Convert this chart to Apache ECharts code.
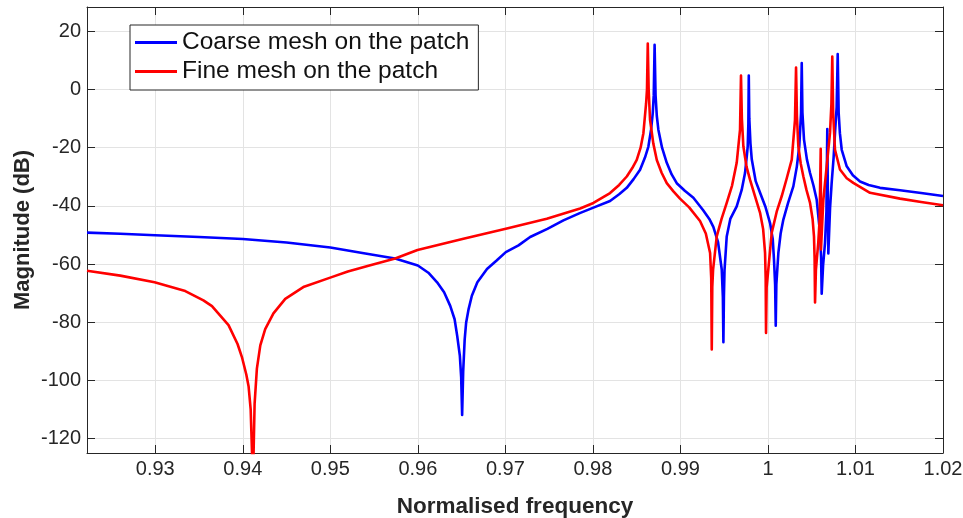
<!DOCTYPE html>
<html><head><meta charset="utf-8">
<script src="https://cdn.jsdelivr.net/npm/echarts@6/dist/echarts.min.js"></script>
<style>html,body{margin:0;padding:0;background:#fff}#c{width:963px;height:518px}</style>
</head><body><div id="c"></div>
<script>
const xTicks = [0.93, 0.94, 0.95, 0.96, 0.97, 0.98, 0.99, 1.0, 1.01, 1.02];
const yTicks = [-120, -100, -80, -60, -40, -20, 0, 20];
const seriesNames = ['Coarse mesh on the patch', 'Fine mesh on the patch'];

const coarseFreq = [
  0.9222, 0.9260, 0.9300, 0.9350, 0.9400, 0.9450, 0.9500, 0.9540, 0.9574, 0.9600,
  0.9612, 0.9622, 0.9630, 0.9637, 0.9642, 0.9645, 0.9648, 0.96495, 0.96506, 0.96518,
  0.96535, 0.96552, 0.9658, 0.96617, 0.9668, 0.9679, 0.9690, 0.97005, 0.9715, 0.97283,
  0.9748, 0.97663, 0.9785, 0.98006, 0.98196, 0.9830, 0.98387, 0.98465, 0.98539, 0.98595,
  0.98634, 0.98665, 0.98684, 0.98695, 0.98705, 0.98716, 0.98730, 0.98748, 0.9879, 0.98844,
  0.9890, 0.98958, 0.9905, 0.99148, 0.9926, 0.9933, 0.99376, 0.9943, 0.99472, 0.99485,
  0.99491, 0.99497, 0.99504, 0.99529, 0.9957, 0.99643, 0.9970, 0.99738, 0.99758, 0.99769,
  0.99776, 0.99781, 0.99787, 0.9980, 0.99815, 0.9986, 0.9991, 0.9997, 1.00024, 1.00055,
  1.00069, 1.00082, 1.00089, 1.00096, 1.00119, 1.00145, 1.00176, 1.0023, 1.0029, 1.0033,
  1.00358, 1.00378, 1.00386, 1.00394, 1.00412, 1.00445, 1.00481, 1.0052, 1.00557, 1.00595,
  1.00607, 1.00614, 1.0063, 1.00652, 1.00668, 1.00678, 1.0069, 1.0071, 1.00728, 1.0075,
  1.00766, 1.00785, 1.00797, 1.00808, 1.00822, 1.00843, 1.0090, 1.0097, 1.01052, 1.0115,
  1.0128, 1.01509, 1.0175, 1.02];
const coarseMag = [
  -49.2, -49.6, -50.1, -50.7, -51.4, -52.6, -54.3, -56.4, -58.1, -60.5,
  -63.0, -66.3, -69.7, -74.4, -79.0, -84.8, -91.6, -99, -111.9, -97,
  -86, -80.1, -75.5, -70.9, -66.3, -61.7, -58.8, -55.9, -53.6, -50.7,
  -47.9, -45, -42.5, -40.6, -38.3, -36.0, -33.8, -30.8, -27.6, -23.4,
  -19.6, -13.7, -8.1, -2, 15.4, -2, -9, -13.8, -20, -25.2,
  -29.2, -32.2, -34.8, -37.2, -41.5, -44.5, -47.2, -52.5, -61.9, -71.5,
  -86.9, -71, -62, -50.5, -44.5, -40.2, -34.5, -28.7, -23, -19.5,
  -12, 4.8, -10, -18.5, -24, -31.5, -35.5, -40.2, -45.9, -51.5,
  -58.5, -67, -81.2, -67, -56.2, -49.5, -44.7, -39.0, -33.3, -26.5,
  -19.5, -8.1, 9.1, -8, -17.2, -24.0, -28.7, -33.0, -37.9, -49.3,
  -57.5, -70.2, -60.5, -52.7, -42, -13.6, -56.4, -40.5, -32.1, -23.5,
  -15, -6, 12.2, -8, -15, -20.7, -26.4, -29.5, -31.6, -32.8,
  -33.8, -34.6, -35.6, -36.6];

const fineFreq = [
  0.9222, 0.9260, 0.92992, 0.93343, 0.9355, 0.93648, 0.93837, 0.9394, 0.9399, 0.9404,
  0.94066, 0.9409, 0.94116, 0.94135, 0.94161, 0.9420, 0.94256, 0.9435, 0.94485, 0.9470,
  0.95007, 0.9520, 0.95436, 0.95741, 0.95996, 0.96521, 0.97005, 0.97473, 0.97854, 0.98006,
  0.98196, 0.9830, 0.98387, 0.9845, 0.98501, 0.98545, 0.98577, 0.98608, 0.98618, 0.98627,
  0.98637, 0.98653, 0.9869, 0.9873, 0.98785, 0.98844, 0.9892, 0.98995, 0.9910, 0.99224,
  0.9929, 0.99339, 0.99352, 0.99358, 0.99364, 0.99373, 0.99415, 0.9947, 0.99529, 0.9959,
  0.99643, 0.99681, 0.99692, 0.99702, 0.99719, 0.99755, 0.99795, 0.9985, 0.9991, 0.99945,
  0.99967, 0.99974, 0.99978, 0.99985, 1.00004, 1.00043, 1.0010, 1.00157, 1.00215, 1.00272,
  1.00309, 1.00321, 1.00331, 1.00347, 1.00375, 1.00404, 1.0044, 1.00481, 1.0051, 1.00526,
  1.00533, 1.00538, 1.00548, 1.00575, 1.0059, 1.00603, 1.00606, 1.00633, 1.00671, 1.00709,
  1.00725, 1.00735, 1.00745, 1.00766, 1.00823, 1.0090, 1.00975, 1.01166, 1.01509, 1.0175,
  1.02];
const fineMag = [
  -62.3, -64.0, -66.3, -69.3, -72.5, -74.5, -81.0, -87.5, -92.0, -98,
  -102, -110, -135, -108, -96, -88, -82.4, -77, -72, -67.8,
  -64.6, -62.6, -60.6, -58.1, -55.2, -51.3, -47.9, -44.4, -40.9, -39.0,
  -35.6, -32.8, -29.9, -27.0, -24.2, -20, -15, -4.7, 0, 15.8,
  0, -10.4, -18.5, -24.2, -28.6, -32.2, -35.0, -37.5, -40.5, -45.2,
  -49.5, -56.2, -65, -89.4, -68, -62, -50.5, -44.5, -39, -33,
  -25.2, -13.8, 4.8, -10, -19.5, -26.5, -31, -36.5, -42.4, -48,
  -56.2, -65, -83.7, -68, -61.9, -49.3, -42, -36.7, -30.5, -24.1,
  -10.4, 7.6, -9, -19.5, -25.5, -29.8, -34.5, -39, -44.5, -50.5,
  -58, -73.2, -62, -52.6, -45, -20.4, -55, -37.9, -26.4, -14.9,
  -5, 11.4, -8, -20.7, -27.5, -30.5, -32.1, -35.5, -37.5, -38.7,
  -39.8];

const X_MIN = 0.9222, X_MAX = 1.02, Y_MIN = -125, Y_MAX = 28.4;
const AX = '#262626';
const FONT = '"Liberation Sans", Arial, sans-serif';

function zip(a, b) { return a.map((v, i) => [v, b[i]]); }
const fmtX = v => String(Math.round(v * 100) / 100);

const chart = echarts.init(document.getElementById('c'), null, {renderer: 'canvas'});
const tickCommon = {show: true, inside: true, length: 8, lineStyle: {color: AX, width: 1}};
chart.setOption({
  animation: false,
  backgroundColor: '#fff',
  grid: {left: 87, right: 20, top: 7, bottom: 65, containLabel: false, outerBoundsMode: 'none'},
  legend: {
    orient: 'vertical', left: 130, top: 25,
    data: seriesNames,
    icon: 'rect', itemWidth: 42, itemHeight: 3, itemGap: 4,
    padding: [5, 9, 6, 5],
    backgroundColor: '#fff', borderColor: AX, borderWidth: 1, borderRadius: 0,
    textStyle: {fontFamily: FONT, fontSize: 24.5, color: '#111'}
  },
  xAxis: [{
    type: 'value', min: X_MIN, max: X_MAX, position: 'bottom',
    name: 'Normalised frequency', nameLocation: 'middle', nameGap: 42, nameMoveOverlap: false,
    nameTextStyle: {fontFamily: FONT, fontSize: 22.5, fontWeight: 'bold', color: AX},
    axisLine: {show: true, onZero: false, lineStyle: {color: AX, width: 1}},
    axisTick: Object.assign({customValues: xTicks}, tickCommon),
    axisLabel: {customValues: xTicks, formatter: fmtX, fontFamily: FONT, fontSize: 20, color: AX, margin: 6},
    splitLine: {show: true, lineStyle: {color: '#e3e3e3', width: 1}}
  }, {
    type: 'value', min: X_MIN, max: X_MAX, position: 'top',
    axisLine: {show: true, onZero: false, lineStyle: {color: AX, width: 1}},
    axisTick: Object.assign({customValues: xTicks}, tickCommon),
    axisLabel: {show: false}, splitLine: {show: false}
  }],
  yAxis: [{
    type: 'value', min: Y_MIN, max: Y_MAX, position: 'left',
    name: 'Magnitude (dB)', nameLocation: 'middle', nameGap: 53, nameRotate: 90, nameMoveOverlap: false,
    nameTextStyle: {fontFamily: FONT, fontSize: 22, fontWeight: 'bold', color: AX},
    axisLine: {show: true, onZero: false, lineStyle: {color: AX, width: 1}},
    axisTick: Object.assign({customValues: yTicks}, tickCommon),
    axisLabel: {customValues: yTicks, fontFamily: FONT, fontSize: 20, color: AX, margin: 6},
    splitLine: {show: true, lineStyle: {color: '#e3e3e3', width: 1}}
  }, {
    type: 'value', min: Y_MIN, max: Y_MAX, position: 'right',
    axisLine: {show: true, onZero: false, lineStyle: {color: AX, width: 1}},
    axisTick: Object.assign({customValues: yTicks}, tickCommon),
    axisLabel: {show: false}, splitLine: {show: false}
  }],
  series: [{
    name: seriesNames[0], type: 'line', xAxisIndex: 0, yAxisIndex: 0,
    data: zip(coarseFreq, coarseMag), symbol: 'none', smooth: false, clip: true,
    itemStyle: {color: '#0000ff'},
    lineStyle: {color: '#0000ff', width: 2.6, join: 'round'}
  }, {
    name: seriesNames[1], type: 'line', xAxisIndex: 0, yAxisIndex: 0,
    data: zip(fineFreq, fineMag), symbol: 'none', smooth: false, clip: true,
    itemStyle: {color: '#ff0000'},
    lineStyle: {color: '#ff0000', width: 2.6, join: 'round'}
  }]
});
</script>
</body></html>
